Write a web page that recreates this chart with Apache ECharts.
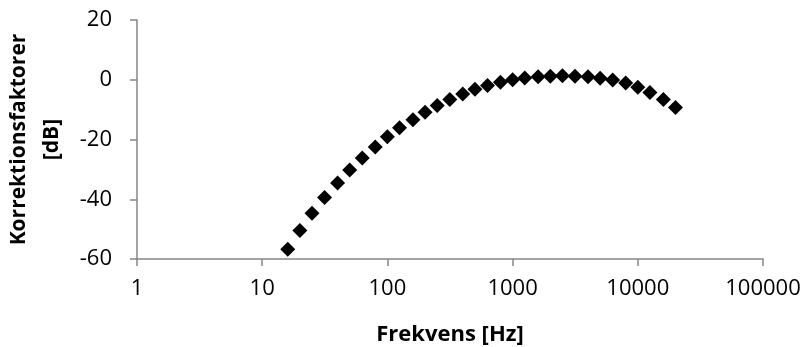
<!DOCTYPE html>
<html>
<head>
<meta charset="utf-8">
<script src="https://cdn.jsdelivr.net/npm/echarts@6/dist/echarts.min.js"></script>
<style>
html,body{margin:0;padding:0;background:#fff;}
#chart{width:805px;height:347px;}
</style>
</head>
<body>
<div id="chart"></div>
<script>
const frequencies = [16, 20, 25, 31.5, 40, 50, 63, 80, 100, 125, 160, 200, 250, 315, 400, 500, 630, 800, 1000, 1250, 1600, 2000, 2500, 3150, 4000, 5000, 6300, 8000, 10000, 12500, 16000, 20000];
const corrections = [-56.7, -50.5, -44.7, -39.4, -34.6, -30.2, -26.2, -22.5, -19.1, -16.1, -13.4, -10.9, -8.6, -6.6, -4.8, -3.2, -1.9, -0.8, 0, 0.6, 1.0, 1.2, 1.3, 1.2, 1.0, 0.5, -0.1, -1.1, -2.5, -4.3, -6.6, -9.3];
const xTitle = 'Frekvens [Hz]';
const yTitle = 'Korrektionsfaktorer\n[dB]';

const font = 'Open Sans';
const chart = echarts.init(document.getElementById('chart'), null, {renderer: 'canvas'});
const axisLineStyle = {color: '#868686', width: 1.5};
chart.setOption({
  animation: false,
  backgroundColor: '#fff',
  grid: {left: 137, right: 42, top: 20, bottom: 88, containLabel: false, outerBoundsMode: 'none'},
  xAxis: {
    type: 'log', logBase: 10, min: 1, max: 100000,
    name: xTitle, nameLocation: 'middle', nameGap: 65,
    nameTextStyle: {fontFamily: font, fontWeight: 'bold', fontSize: 22, color: '#000'},
    axisLine: {show: true, onZero: false, lineStyle: axisLineStyle},
    axisTick: {show: true, length: 7, lineStyle: axisLineStyle},
    minorTick: {show: false},
    splitLine: {show: false},
    axisLabel: {fontFamily: font, fontSize: 22, color: '#000', margin: 19,
      formatter: v => String(Math.round(v))}
  },
  yAxis: {
    type: 'value', min: -60, max: 20, interval: 20,
    name: yTitle, nameLocation: 'middle', nameGap: 68, nameRotate: 90,
    nameTextStyle: {fontFamily: font, fontWeight: 'bold', fontSize: 21, color: '#000', lineHeight: 33, align: 'center'},
    axisLine: {show: true, onZero: false, lineStyle: axisLineStyle},
    axisTick: {show: true, length: 7, lineStyle: axisLineStyle},
    splitLine: {show: false},
    axisLabel: {fontFamily: font, fontSize: 22, color: '#000', margin: 25}
  },
  series: [{
    type: 'scatter',
    symbol: 'diamond',
    symbolSize: 15,
    itemStyle: {color: '#000', opacity: 1},
    data: frequencies.map((f, i) => [f, corrections[i]])
  }]
});
</script>
</body>
</html>
